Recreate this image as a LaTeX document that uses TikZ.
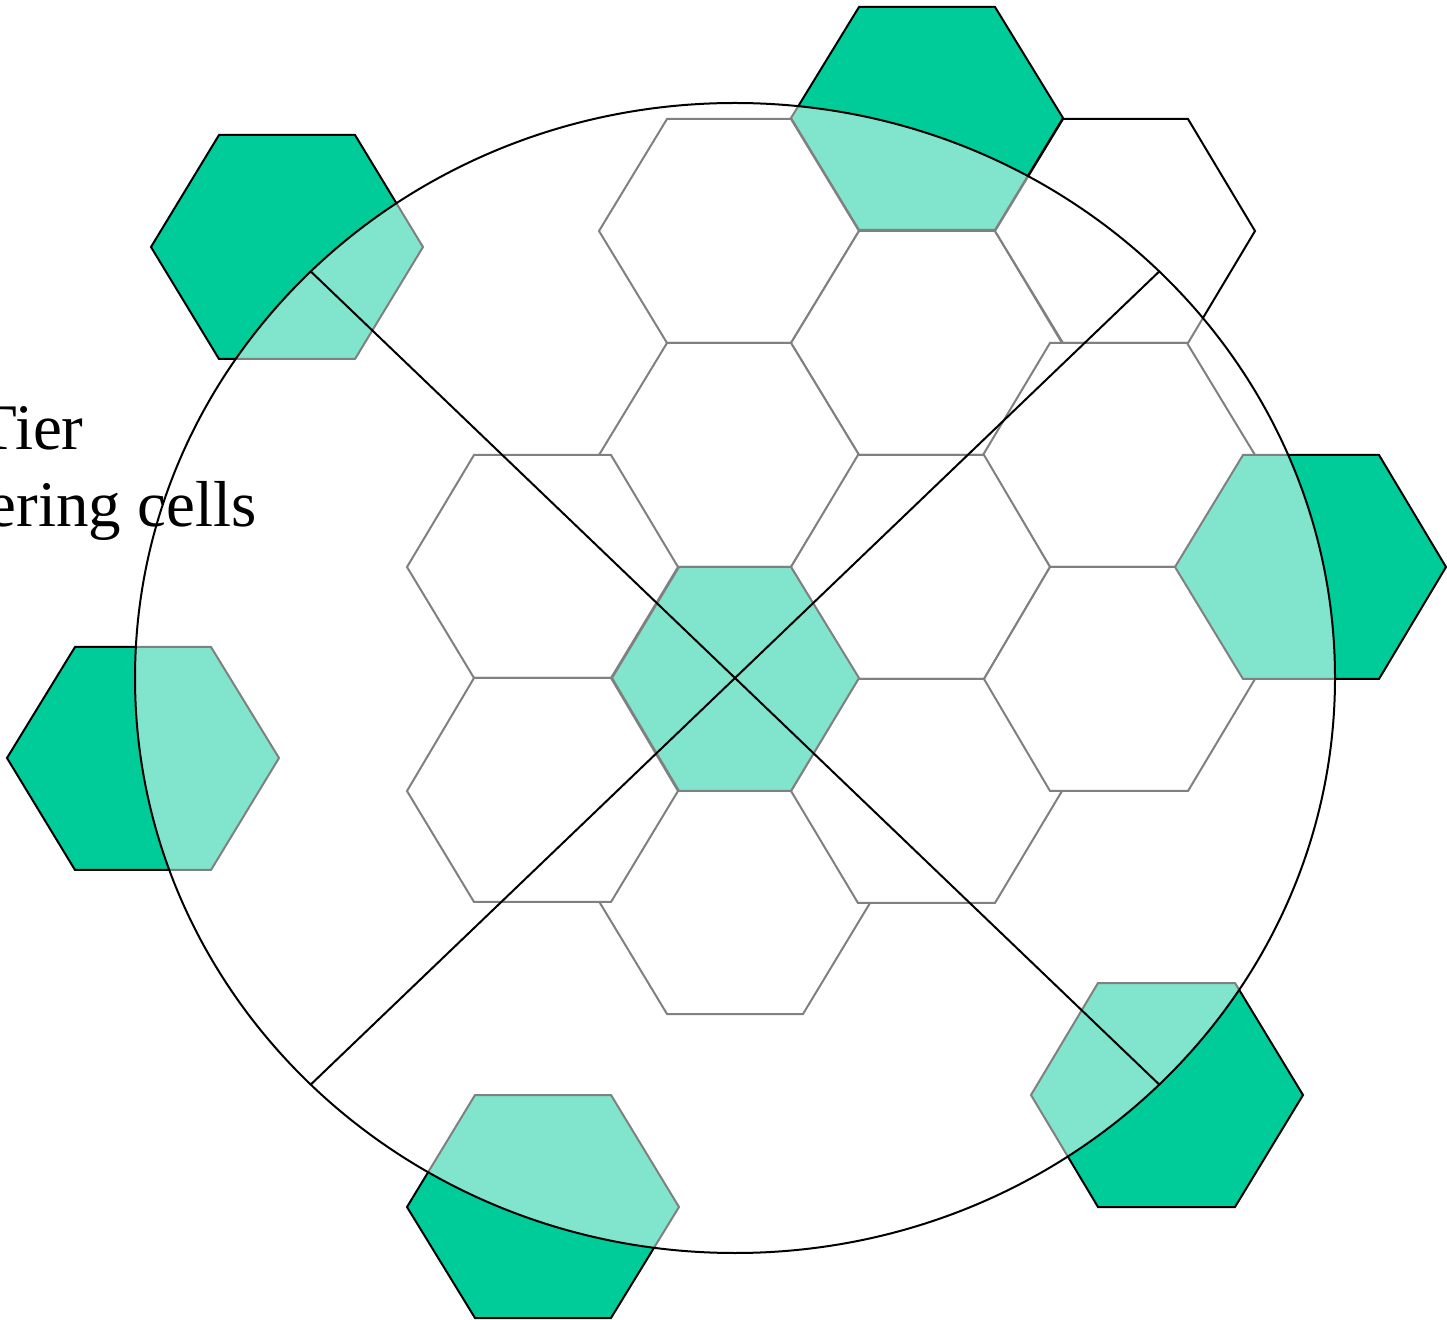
\documentclass[tikz,border=0pt]{standalone}
\usepackage{fontspec}
\setmainfont{Liberation Serif}
\definecolor{cellgreen}{RGB}{0,204,153}
\tikzset{
  cellw/.style={draw=black, fill=white, line width=1pt},
  cellg/.style={draw=black, fill=cellgreen, line width=1pt},
  veil/.style={draw=black, fill=white, fill opacity=0.5, line width=1pt},
  ray/.style={draw=black, line width=1pt},
  lbl/.style={inner sep=0pt, anchor=base east, font=\fontsize{32.5}{39}\selectfont}
}
% #1 style, #2 xl, #3 xa, #4 xb, #5 xr, #6 ytop, #7 ymid, #8 ybottom
\newcommand\hexcell[8][cellw]{\path[#1] (#2,#7) -- (#3,#6) -- (#4,#6) -- (#5,#7) -- (#4,#8) -- (#3,#8) -- cycle;}
\begin{document}
\begin{tikzpicture}[x=0.5pt, y=-0.5pt]
\useasboundingbox (0,0) rectangle (1447,1320);
% white cells of the grid
\hexcell{599}{667}{791}{859}{119}{231}{343}
\hexcell{791}{859}{995}{1062}{231}{343}{455}
\hexcell{995}{1063}{1188}{1255}{119}{231}{343}
\hexcell{599}{667}{791}{859}{343}{455}{567}
\hexcell{983}{1050}{1187}{1255}{343}{455}{567}
\hexcell{791}{858}{984}{1050}{455}{567}{679}
\hexcell{612}{679}{791}{859}{791}{903}{1012}
\hexcell{600}{667}{803}{870}{791}{903}{1014}
\hexcell{791}{858}{995}{1062}{679}{791}{903}
\hexcell{984}{1050}{1188}{1255}{567}{679}{791}
\hexcell{407}{474}{611}{678}{455}{567}{678}
\hexcell{407}{474}{611}{678}{678}{791}{902}
% green cells
\hexcell[cellg]{612}{679}{791}{859}{567}{678}{791}
\hexcell[cellg]{151}{219}{355}{423}{135}{247}{359}
\hexcell[cellg]{791}{859}{995}{1063}{7}{118}{230}
\hexcell[cellg]{1175}{1243}{1379}{1446}{455}{567}{679}
\hexcell[cellg]{1031}{1098}{1235}{1303}{983}{1095}{1207}
\hexcell[cellg]{407}{475}{611}{679}{1095}{1207}{1318}
\hexcell[cellg]{7}{75}{211}{279}{647}{758}{870}
% reuse circle
\coordinate (o) at (735,678);
\path[veil] (o) ellipse [x radius=300pt, y radius=287.5pt];
\coordinate (nw) at (310.7,271.4);
\coordinate (se) at (1159.3,1084.6);
\coordinate (ne) at (1159.3,271.4);
\coordinate (sw) at (310.7,1084.6);
\draw[ray] (nw) -- (o) -- (se);
\draw[ray] (ne) -- (o) -- (sw);
% label
\node[lbl] (t1) at (84,450) {Tier};
\node[lbl] (t2) at (257,527) {ering cells};
\end{tikzpicture}
\end{document}
